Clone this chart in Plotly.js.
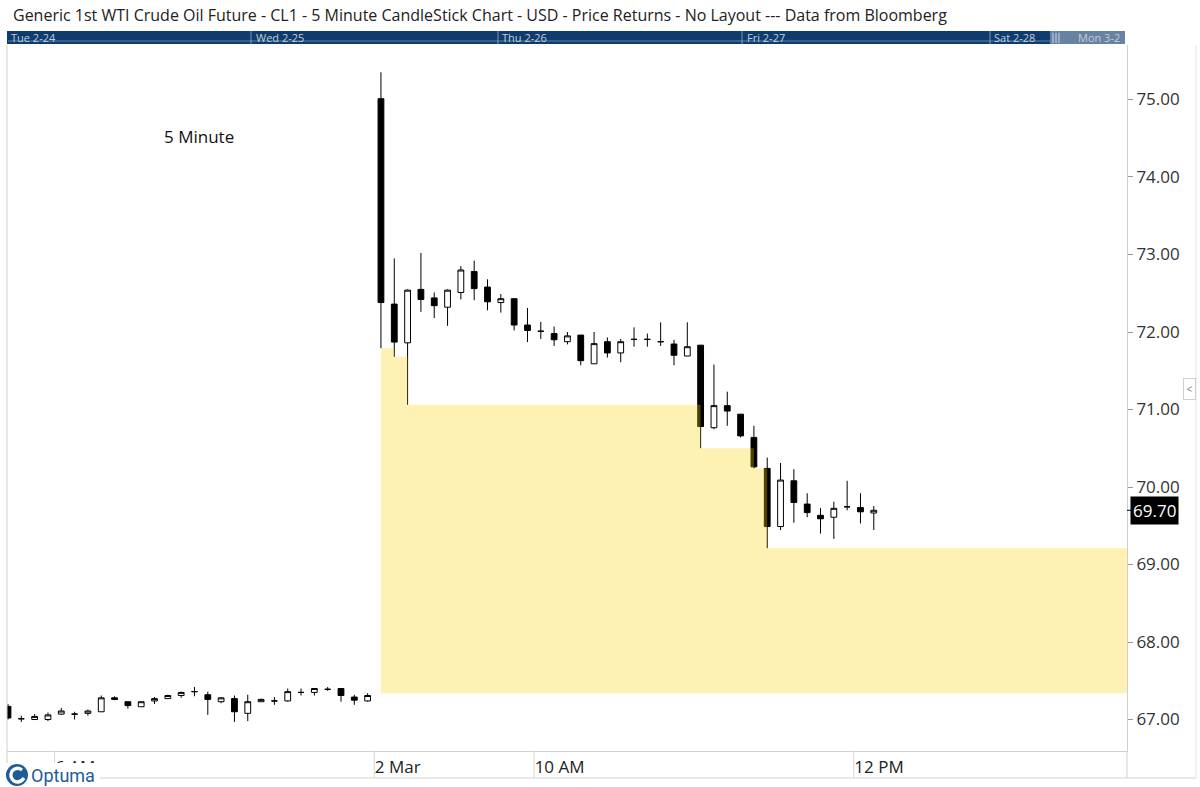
<!DOCTYPE html>
<html><head><meta charset="utf-8">
<script src="https://cdn.plot.ly/plotly-3.0.1.min.js"></script>
<style>html,body{margin:0;padding:0;background:#fff}#chart{width:1200px;height:787px}</style>
</head><body><div id="chart"></div>
<script>
// ---- data: 5-minute candles (bar index order) ----
const openP  = [67.17,67.01,67.00,67.00,67.07,67.07,67.08,67.10,67.28,67.23,67.165,67.24,67.27,67.31,67.36,67.32,67.23,67.27,67.08,67.23,67.24,67.24,67.35,67.35,67.39,67.40,67.29,67.24,
  75.01,72.36,71.86,72.55,72.44,72.32,72.51,72.78,72.58,72.38,72.43,72.09,72.01,71.98,71.875,71.96,71.59,71.875,71.73,71.905,71.905,71.875,71.845,71.69,71.83,70.765,71.05,70.94,70.64,70.24,69.49,70.08,69.78,69.635,69.61,69.745,69.735,69.665];
const highP  = [67.20,67.05,67.07,67.09,67.15,67.10,67.13,67.31,67.30,67.23,67.23,67.29,67.32,67.36,67.42,67.36,67.29,67.31,67.32,67.27,67.29,67.40,67.40,67.40,67.42,67.40,67.32,67.34,
  75.35,72.95,72.55,73.02,72.51,72.55,72.85,72.92,72.68,72.49,72.43,72.31,72.13,72.07,72.00,71.96,72.00,71.93,71.91,72.06,71.98,72.125,71.90,72.125,71.83,71.58,71.23,70.94,70.79,70.38,70.31,70.23,69.92,69.73,69.81,70.08,69.92,69.755];
const lowP   = [67.00,66.97,67.00,66.98,67.06,67.00,67.05,67.10,67.25,67.14,67.165,67.20,67.27,67.28,67.30,67.06,67.21,66.97,66.98,67.23,67.19,67.23,67.31,67.31,67.37,67.23,67.19,67.23,
  71.79,71.68,71.06,72.26,72.18,72.08,72.42,72.41,72.28,72.25,72.02,71.87,71.91,71.82,71.84,71.57,71.59,71.67,71.61,71.81,71.81,71.82,71.57,71.69,70.50,70.745,70.79,70.64,70.24,69.21,69.445,69.54,69.61,69.40,69.33,69.70,69.53,69.445];
const closeP = [67.02,67.01,67.04,67.06,67.11,67.07,67.11,67.28,67.26,67.18,67.23,67.27,67.31,67.35,67.36,67.26,67.28,67.10,67.23,67.26,67.24,67.36,67.35,67.40,67.39,67.31,67.25,67.31,
  72.38,71.87,72.54,72.42,72.34,72.54,72.80,72.56,72.39,72.43,72.09,72.02,72.01,71.90,71.95,71.63,71.85,71.73,71.875,71.905,71.905,71.875,71.70,71.81,70.78,71.05,70.98,70.66,70.26,69.49,70.09,69.80,69.67,69.59,69.725,69.745,69.68,69.70];
const lastPrice = 69.70;

// unfilled gap zone (steps start at bar index, top price), common bottom
const zoneStart = [28, 29, 30, 52, 56, 57];
const zoneTop   = [71.79, 71.68, 71.06, 70.50, 70.24, 69.21];
const zoneBottom = 67.34;

// x-axis time labels (bar-boundary positions)
const xTickPos  = [3.5, 27.5, 39.5, 63.5];
const xTickText = ['6 AM', '2 Mar', '10 AM', '12 PM'];

// navigator day labels
const navLabels = ['Tue 2-24', 'Wed 2-25', 'Thu 2-26', 'Fri 2-27', 'Sat 2-28', 'Mon 3-2'];
const navLabelPx = [9, 254, 500, 745, 992, 1076];
const navSepPx = [251, 498, 742, 990];

const yTicks = [67, 68, 69, 70, 71, 72, 73, 74, 75];

// ---- layout geometry ----
const L = 7, R = 1127, T = 45, B = 751;
const px2x = p => (p - L) / (R - L);
const py2y = p => (B - p) / (B - T);
const xRange = [-0.075, 84.01];
const yRange = [66.594, 75.703];

const idx = openP.map((_, i) => i);
const FONT = 'Open Sans, Noto Sans, sans-serif';

const trace = {
  type: 'candlestick',
  x: idx, open: openP, high: highP, low: lowP, close: closeP,
  increasing: {line: {color: '#000', width: 1}, fillcolor: '#ffffff'},
  decreasing: {line: {color: '#000', width: 1}, fillcolor: '#000000'},
  whiskerwidth: 0,
  hoverinfo: 'skip',
  showlegend: false
};

const shapes = [];
// yellow zone steps
zoneStart.forEach((s, k) => {
  const e = k + 1 < zoneStart.length ? zoneStart[k + 1] : xRange[1] + 2;
  shapes.push({type: 'rect', xref: 'x', yref: 'y', x0: s, x1: e, y0: zoneBottom, y1: zoneTop[k],
    fillcolor: 'rgb(248,208,8)', opacity: 0.3, line: {width: 0}, layer: 'above'});
});
// x-axis band separators at tick positions
xTickPos.forEach(p => shapes.push({type: 'line', xref: 'x', yref: 'paper', x0: p, x1: p, y0: py2y(778), y1: 0,
  line: {color: '#d6d6d6', width: 1}, layer: 'above'}));
// navigator bar
shapes.push({type: 'rect', xref: 'paper', yref: 'paper', x0: px2x(7), x1: px2x(1125), y0: py2y(44), y1: py2y(31),
  fillcolor: '#0f3c6e', line: {width: 0}, layer: 'above'});
shapes.push({type: 'rect', xref: 'paper', yref: 'paper', x0: px2x(1050), x1: px2x(1125), y0: py2y(44), y1: py2y(31),
  fillcolor: 'rgba(175,190,210,0.55)', line: {width: 0}, layer: 'above'});
[1053, 1056, 1059].forEach(p => shapes.push({type: 'line', xref: 'paper', yref: 'paper', x0: px2x(p), x1: px2x(p), y0: py2y(43), y1: py2y(33),
  line: {color: 'rgba(230,235,245,0.8)', width: 1}, layer: 'above'}));
shapes.push({type: 'line', xref: 'paper', yref: 'paper', x0: px2x(8), x1: px2x(1050), y0: py2y(41), y1: py2y(41),
  line: {color: 'rgba(200,210,225,0.45)', width: 1}, layer: 'above'});
navSepPx.forEach(p => shapes.push({type: 'line', xref: 'paper', yref: 'paper', x0: px2x(p), x1: px2x(p), y0: py2y(44), y1: py2y(31),
  line: {color: 'rgba(200,210,225,0.6)', width: 1}, layer: 'above'}));
// frame lines
shapes.push({type: 'line', xref: 'paper', yref: 'paper', x0: 0, x1: 0, y0: py2y(778), y1: 1, line: {color: '#cfcfcf', width: 1}, layer: 'above'});
shapes.push({type: 'line', xref: 'paper', yref: 'paper', x0: 1, x1: 1, y0: py2y(778), y1: 0, line: {color: '#cfcfcf', width: 1}, layer: 'above'});
shapes.push({type: 'line', xref: 'paper', yref: 'paper', x0: 0, x1: px2x(1196), y0: py2y(778), y1: py2y(778), line: {color: '#d4d4d4', width: 1}, layer: 'above'});
shapes.push({type: 'line', xref: 'paper', yref: 'paper', x0: px2x(1196), x1: px2x(1196), y0: py2y(778), y1: 1, line: {color: '#e2e2e2', width: 1}, layer: 'above'});
// last price tick
shapes.push({type: 'line', xref: 'paper', yref: 'y', x0: 1, x1: px2x(1132), y0: lastPrice, y1: lastPrice, line: {color: '#000', width: 1}});
// logo: white backing + blue disc
shapes.push({type: 'rect', xref: 'paper', yref: 'paper', x0: px2x(0), x1: px2x(100), y0: py2y(787), y1: py2y(763),
  fillcolor: '#ffffff', line: {width: 0}, layer: 'above'});
shapes.push({type: 'circle', xref: 'paper', yref: 'paper', x0: px2x(6), x1: px2x(28), y0: py2y(786), y1: py2y(764),
  fillcolor: '#1d5c99', line: {width: 0}, layer: 'above'});
shapes.push({type: 'path', xref: 'paper', yref: 'paper', layer: 'above', fillcolor: 'rgba(0,0,0,0)',
  path: 'M ' + px2x(22) + ',' + py2y(770) + ' Q ' + px2x(17) + ',' + py2y(766) + ' ' + px2x(12) + ',' + py2y(771) +
        ' Q ' + px2x(9) + ',' + py2y(777) + ' ' + px2x(14) + ',' + py2y(781) + ' Q ' + px2x(20) + ',' + py2y(784) + ' ' + px2x(24) + ',' + py2y(778),
  line: {color: '#ffffff', width: 3.2}});

const annotations = [];
navLabels.forEach((t, k) => annotations.push({xref: 'paper', yref: 'paper', x: px2x(navLabelPx[k]), y: py2y(37.5),
  xanchor: 'left', yanchor: 'middle', showarrow: false, text: t, font: {family: FONT, size: 11, color: '#c3cdda'}}));
annotations.push({xref: 'paper', yref: 'paper', x: px2x(162), y: py2y(137), xanchor: 'left', yanchor: 'middle',
  showarrow: false, text: '5 Minute', font: {family: FONT, size: 17, color: '#111'}});
annotations.push({xref: 'paper', yref: 'y', x: 1, y: lastPrice, xanchor: 'left', yanchor: 'middle', xshift: 3,
  showarrow: false, text: lastPrice.toFixed(2), bgcolor: '#000', borderpad: 2,
  font: {family: FONT, size: 17, color: '#fff'}});
annotations.push({xref: 'paper', yref: 'paper', x: px2x(1183), y: py2y(389), xanchor: 'left', yanchor: 'middle',
  showarrow: false, text: '<', width: 9, height: 18, bgcolor: '#fff', bordercolor: '#cfcfcf', borderwidth: 1,
  font: {family: FONT, size: 10, color: '#777'}});
annotations.push({xref: 'paper', yref: 'paper', x: px2x(29), y: py2y(775), xanchor: 'left', yanchor: 'middle',
  showarrow: false, text: 'Optuma', font: {family: 'Roboto, sans-serif', size: 18, color: '#1d5c99'}});

const layout = {
  width: 1200, height: 787,
  margin: {l: L, r: 1200 - R, t: T, b: 787 - B, pad: 0},
  paper_bgcolor: '#fff', plot_bgcolor: '#fff',
  title: {text: 'Generic 1st WTI Crude Oil Future - CL1 - 5 Minute CandleStick Chart - USD - Price Returns - No Layout --- Data from Bloomberg',
    xref: 'container', yref: 'container', x: 13 / 1200, xanchor: 'left', y: 1 - 15 / 787, yanchor: 'middle',
    font: {family: FONT, size: 16, color: '#222'}},
  showlegend: false,
  boxgap: 0.38,
  xaxis: {type: 'linear', range: xRange, showgrid: false, zeroline: false, showline: true, linecolor: '#cfcfcf',
    ticks: '', tickmode: 'array', tickvals: xTickPos, ticktext: xTickText,
    ticklabelposition: 'outside right', ticklabelstandoff: 1,
    tickfont: {family: FONT, size: 17, color: '#222'},
    showticklabels: true, rangeslider: {visible: false}, fixedrange: true},
  yaxis: {side: 'right', range: yRange, showgrid: false, zeroline: false, showline: true, linecolor: '#cfcfcf',
    ticks: 'outside', ticklen: 5, tickcolor: '#999', tickmode: 'array', tickvals: yTicks,
    ticktext: yTicks.map(v => v.toFixed(2)), tickfont: {family: FONT, size: 17, color: '#333'}, fixedrange: true},
  shapes: shapes,
  annotations: annotations
};

Plotly.newPlot('chart', [trace], layout, {displayModeBar: false, staticPlot: true});
</script>
</body></html>
